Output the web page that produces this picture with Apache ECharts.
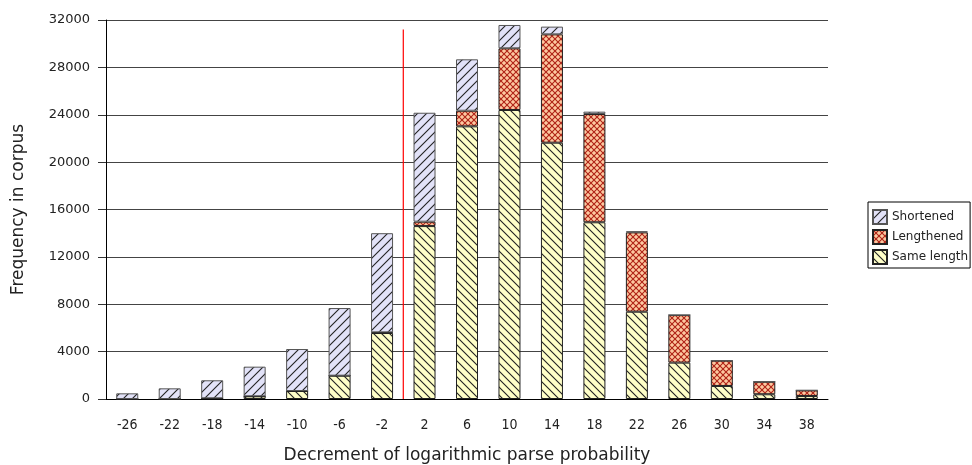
<!DOCTYPE html>
<html>
<head>
<meta charset="utf-8">
<script src="https://cdn.jsdelivr.net/npm/echarts@6/dist/echarts.min.js"></script>
<style>
    body { margin: 0; background: #fff; }
    #chart { width: 972px; height: 465px; }
</style>
</head>
<body>
<div id="chart"></div>
<script>
var categories = ['-26', '-22', '-18', '-14', '-10', '-6', '-2', '2', '6', '10', '14', '18', '22', '26', '30', '34', '38'];
var sameLength = [0, 0, 60, 230, 675, 1970, 5570, 14600, 23020, 24400, 21640, 14920, 7370, 3070, 1100, 400, 250];
var lengthened = [0, 0, 0, 0, 0, 0, 60, 370, 1320, 5210, 9150, 9140, 6700, 4020, 2140, 1060, 480];
var shortened = [480, 900, 1520, 2500, 3545, 5710, 8370, 9200, 4340, 1970, 650, 200, 90, 0, 0, 0, 0];
// red marker line between -2 and 2
var markerLine = [[0, 0], [0, 31200]];

// small canvas tiles used as hatch patterns
function hatch(bg, line, size, dirs) {
    var c = document.createElement('canvas');
    c.width = size;
    c.height = size;
    var ctx = c.getContext('2d');
    ctx.fillStyle = bg;
    ctx.fillRect(0, 0, size, size);
    ctx.strokeStyle = line;
    ctx.lineWidth = 1.1;
    dirs.forEach(function (d) {
        ctx.beginPath();
        if (d == '/') {
            ctx.moveTo(-1, size + 1); ctx.lineTo(size + 1, -1);
            ctx.moveTo(-1, 1); ctx.lineTo(1, -1);
            ctx.moveTo(size - 1, size + 1); ctx.lineTo(size + 1, size - 1);
        } else {
            ctx.moveTo(-1, -1); ctx.lineTo(size + 1, size + 1);
            ctx.moveTo(size - 1, -1); ctx.lineTo(size + 1, 1);
            ctx.moveTo(-1, size - 1); ctx.lineTo(1, size + 1);
        }
        ctx.stroke();
    });
    return { image: c, repeat: 'repeat' };
}

var chart = echarts.init(document.getElementById('chart'));
var option = {
    animation: false,
    textStyle: { fontFamily: 'DejaVu Sans' },
    grid: { left: 106, right: 144, top: 20, bottom: 66, outerBoundsMode: 'none' },
    legend: {
        data: ['Shortened', 'Lengthened', 'Same length'],
        orient: 'vertical',
        left: 868,
        top: 202,
        icon: 'rect',
        itemWidth: 14,
        itemHeight: 14,
        itemGap: 4,
        itemTextGap: 4,
        padding: [7, 2, 3, 4],
        borderColor: '#000',
        borderWidth: 1,
        textStyle: { fontSize: 12, color: '#222' }
    },
    xAxis: [
        {
            type: 'category',
            data: categories,
            name: 'Decrement of logarithmic parse probability',
            nameLocation: 'middle',
            nameGap: 48,
            nameTextStyle: { fontSize: 17, color: '#222' },
            axisLine: { lineStyle: { color: '#000' } },
            axisTick: { length: 8, lineStyle: { color: '#333' } },
            axisLabel: { fontSize: 14, color: '#222', margin: 19, fontFamily: 'DejaVu Sans Condensed' }
        },
        {
            type: 'value',
            min: -28,
            max: 40,
            show: false
        }
    ],
    yAxis: {
        type: 'value',
        min: 0,
        max: 32000,
        interval: 4000,
        name: 'Frequency in corpus',
        nameLocation: 'middle',
        nameGap: 79,
        nameTextStyle: { fontSize: 17, color: '#222' },
        axisLine: { show: true, onZero: false, lineStyle: { color: '#000' } },
        axisTick: { show: true, length: 8, lineStyle: { color: '#333' } },
        axisLabel: {
            fontSize: 13, color: '#222', margin: 16,
            formatter: function (v) { return String(v); }
        },
        splitLine: { lineStyle: { color: '#444', width: 1 } }
    },
    series: [
        {
            name: 'Same length',
            type: 'bar',
            stack: 'all',
            barWidth: 22,
            data: sameLength,
            itemStyle: { color: hatch('#ffffc8', '#222', 8, ['\\']), borderColor: '#222', borderWidth: 1 }
        },
        {
            name: 'Lengthened',
            type: 'bar',
            stack: 'all',
            data: lengthened,
            itemStyle: { color: hatch('#fdc8a0', '#b02418', 6, ['/', '\\']), borderColor: '#222', borderWidth: 1 }
        },
        {
            name: 'Shortened',
            type: 'bar',
            stack: 'all',
            data: shortened,
            itemStyle: { color: hatch('#e2e2f8', '#222', 9, ['/']), borderColor: '#555', borderWidth: 1 }
        },
        {
            name: 'marker',
            type: 'line',
            xAxisIndex: 1,
            data: markerLine,
            symbol: 'none',
            lineStyle: { color: '#ff0000', width: 1.2 },
            z: 5
        }
    ]
};
chart.setOption(option);
</script>
</body>
</html>
